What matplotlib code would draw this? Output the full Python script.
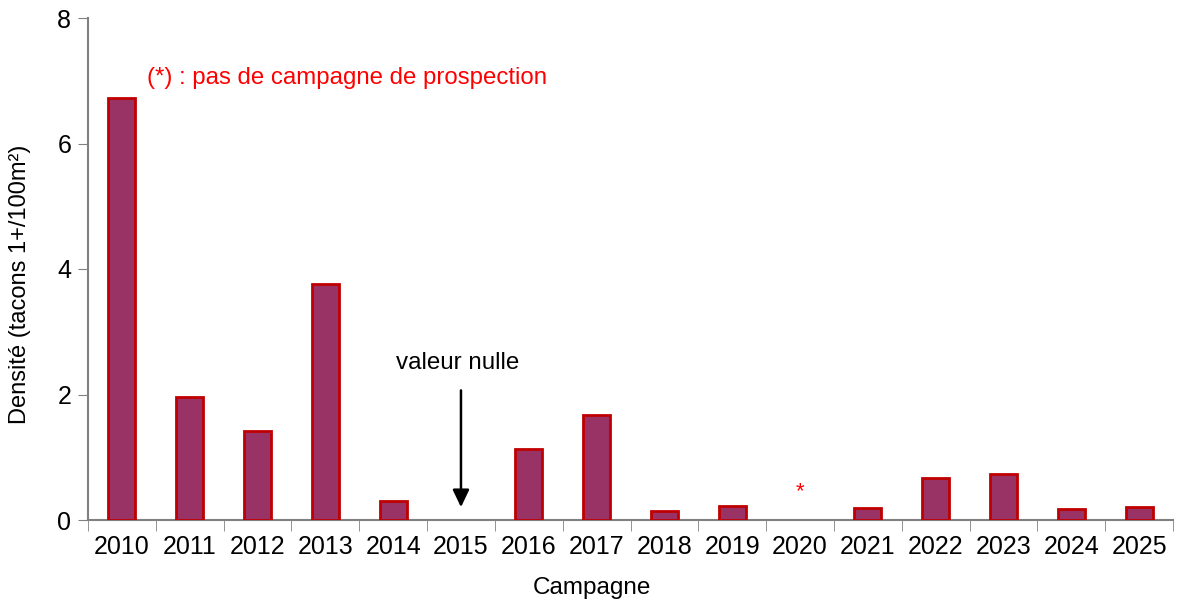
import matplotlib
matplotlib.use("Agg")
import matplotlib.pyplot as plt
import numpy as np

years = ["2010", "2011", "2012", "2013", "2014", "2015", "2016", "2017",
         "2018", "2019", "2020", "2021", "2022", "2023", "2024", "2025"]
density = [6.73, 1.96, 1.42, 3.76, 0.31, 0.0, 1.13, 1.67,
           0.14, 0.23, np.nan, 0.19, 0.67, 0.73, 0.17, 0.21]
y_ticks = [0, 2, 4, 6, 8]

plt.rcParams['font.family'] = ['Liberation Sans', 'DejaVu Sans']

fig = plt.figure(figsize=(11.77, 6.04), dpi=100)
ax = fig.add_axes([88/1177, 84/604, (1173-88)/1177, (520-18)/604])

x = np.arange(len(years))
dens = np.array(density, dtype=float)
mask = np.nan_to_num(dens) > 0
ax.bar(x[mask], dens[mask], width=0.4, color="#993366", edgecolor="#C00000",
       linewidth=2, zorder=3)

ax.set_xlim(-0.5, len(years) - 0.5)
ax.set_ylim(0, 8)
ax.set_yticks(y_ticks)
ax.set_yticklabels([str(t) for t in y_ticks], fontsize=18)
ax.set_xticks(x)
ax.set_xticklabels(years, fontsize=18)
ax.tick_params(axis='x', length=0, pad=11)
ax.set_xticks(np.arange(len(years) + 1) - 0.5, minor=True)
ax.tick_params(axis='x', which='minor', length=8, color="#808080", direction='out')
ax.tick_params(axis='y', length=7, color="#808080", direction='out', pad=5)

for s in ["top", "right"]:
    ax.spines[s].set_visible(False)
for s in ["left", "bottom"]:
    ax.spines[s].set_color("#808080")
    ax.spines[s].set_linewidth(1.5)

ax.set_xlabel("Campagne", fontsize=17.5)
ax.set_ylabel("Densité (tacons 1+/100m²)", fontsize=17)
ax.xaxis.set_label_coords(0.4645, -0.113)
ax.yaxis.set_label_coords(-0.0625, 0.47)
ax.yaxis.label.set_va("center")

ax.text(0.37, 7.04, "(*) : pas de campagne de prospection", color="#FF0000",
        fontsize=17.3, va="center", ha="left")
ax.text(years.index("2020"), 0.45, "*", color="#FF0000", fontsize=16,
        ha="center", va="center")
i15 = years.index("2015")
ax.annotate("", xy=(i15, 0.16), xytext=(i15, 2.11),
            arrowprops=dict(arrowstyle="-|>,head_width=0.5,head_length=1.05",
                            color="black", lw=1.8))
ax.text(i15 - 0.05, 2.5, "valeur nulle", fontsize=17.4, ha="center", va="center")

fig.savefig("out.png", dpi=100)
